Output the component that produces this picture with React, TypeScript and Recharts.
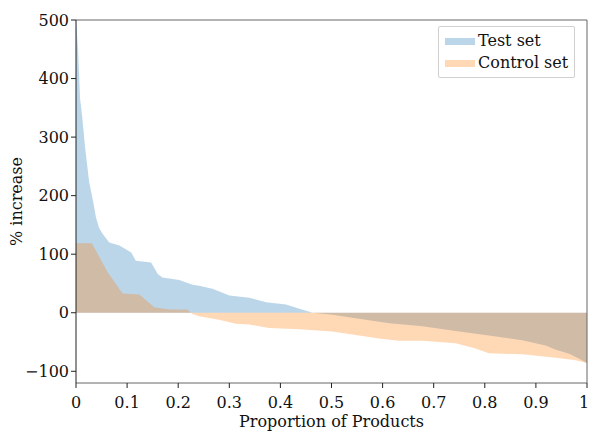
import { ComposedChart, Area, XAxis, YAxis, ReferenceLine } from 'recharts';

// test set, sorted % increase per product
const testX = [
  0, 0.004, 0.008, 0.012, 0.018, 0.026, 0.034, 0.039, 0.045, 0.052, 0.065, 0.085,
  0.108, 0.117, 0.147, 0.16, 0.169, 0.202, 0.228, 0.241, 0.267, 0.3, 0.339, 0.372,
  0.411, 0.437, 0.463, 0.502, 0.567, 0.613, 0.678, 0.743, 0.808, 0.873, 0.919, 0.939,
  0.965, 0.984, 1,
];
const testY = [
  500, 450, 365, 336, 280, 222, 188, 163, 145, 135, 120, 115,
  103, 89, 86, 66, 60, 56, 48, 46, 41, 29.5, 25.5, 18,
  14, 7, 0, -3.5, -12, -18, -23, -31, -39, -47, -56, -63,
  -70, -78, -86,
];

// control set
const controlX = [
  0, 0.031, 0.062, 0.091, 0.124, 0.153, 0.182, 0.218, 0.228, 0.241, 0.28, 0.313,
  0.339, 0.378, 0.437, 0.501, 0.554, 0.593, 0.632, 0.678, 0.743, 0.782, 0.808, 0.873,
  0.939, 0.978, 1,
];
const controlY = [
  118.6, 118.6, 69, 33, 31, 9.5, 5.6, 5.6, -2, -6, -12, -19,
  -20, -26, -28, -32, -39, -44, -48, -48, -52, -61, -69, -71,
  -77, -81, -86,
];

const yTicks = [-100, 0, 100, 200, 300, 400, 500];
const xTicks = [0, 0.1, 0.2, 0.3, 0.4, 0.5, 0.6, 0.7, 0.8, 0.9, 1];

const FONT = '"DejaVu Serif", serif';
const BLUE = '#1f77b4';
const ORANGE = '#ff7f0e';

const allX = Array.from(new Set([...testX, ...controlX])).sort((a, b) => a - b);
const data = allX.map((x) => {
  const ti = testX.indexOf(x);
  const ci = controlX.indexOf(x);
  return {
    x,
    test: ti >= 0 ? testY[ti] : null,
    control: ci >= 0 ? controlY[ci] : null,
  };
});

const fmtNum = (v: number) => (v < 0 ? '\u2212' + Math.abs(v) : String(v));

// x tick; the last label is nudged left so it stays inside the page
function XTick(props: any) {
  const { x, y, payload } = props;
  const v = payload.value;
  return (
    <text
      x={x + (v === 1 ? -3 : 0)}
      y={y}
      dy="0.71em"
      textAnchor="middle"
      fontFamily={FONT}
      fontSize={16}
      fill="#111"
    >
      {String(v)}
    </text>
  );
}

function LegendBox() {
  const row = (color: string, label: string) => (
    <div style={{ display: 'flex', alignItems: 'center', height: 22 }}>
      <span style={{ width: 30, height: 7, background: color, opacity: 0.3, marginRight: 3 }} />
      <span>{label}</span>
    </div>
  );
  return (
    <div
      style={{
        position: 'absolute',
        left: 438,
        top: 26,
        border: '1px solid #d0d0d0',
        borderRadius: 2,
        background: '#fff',
        padding: '3px 6px',
        fontFamily: FONT,
        fontSize: 16,
        color: '#111',
        lineHeight: 1,
      }}
    >
      {row(BLUE, 'Test set')}
      {row(ORANGE, 'Control set')}
    </div>
  );
}

export default function App() {
  return (
    <div style={{ position: 'absolute', left: 0, top: 0, width: 590, height: 432, background: '#fff' }}>
      <ComposedChart
        width={590}
        height={432}
        data={data}
        margin={{ top: 20, right: 3, bottom: 0, left: 0 }}
      >
        <XAxis
          dataKey="x"
          type="number"
          domain={[0, 1]}
          ticks={xTicks}
          interval={0}
          height={49}
          tickSize={5}
          tickMargin={9}
          stroke="#666"
          tickLine={{ stroke: '#222' }}
          tick={<XTick />}
          label={{ value: 'Proportion of Products', position: 'insideBottom', offset: 5, fontFamily: FONT, fontSize: 16, fill: '#111' }}
        />
        <YAxis
          type="number"
          domain={[-120, 500]}
          ticks={yTicks}
          allowDataOverflow
          width={76}
          tickSize={5}
          stroke="#222"
          tickLine={{ stroke: '#222' }}
          tickFormatter={fmtNum}
          tick={{ fontFamily: FONT, fontSize: 16, fill: '#111' }}
          label={{ value: '% increase', angle: -90, position: 'insideLeft', offset: 16, fontFamily: FONT, fontSize: 16, fill: '#111', style: { textAnchor: 'middle' } }}
        />
        <Area
          dataKey="test"
          type="linear"
          baseValue={0}
          stroke="none"
          fill={BLUE}
          fillOpacity={0.3}
          connectNulls
          isAnimationActive={false}
        />
        <Area
          dataKey="control"
          type="linear"
          baseValue={0}
          stroke="none"
          fill={ORANGE}
          fillOpacity={0.3}
          connectNulls
          isAnimationActive={false}
        />
        <ReferenceLine y={500} stroke="#666" />
        <ReferenceLine x={1} stroke="#666" />
      </ComposedChart>
      <LegendBox />
    </div>
  );
}
